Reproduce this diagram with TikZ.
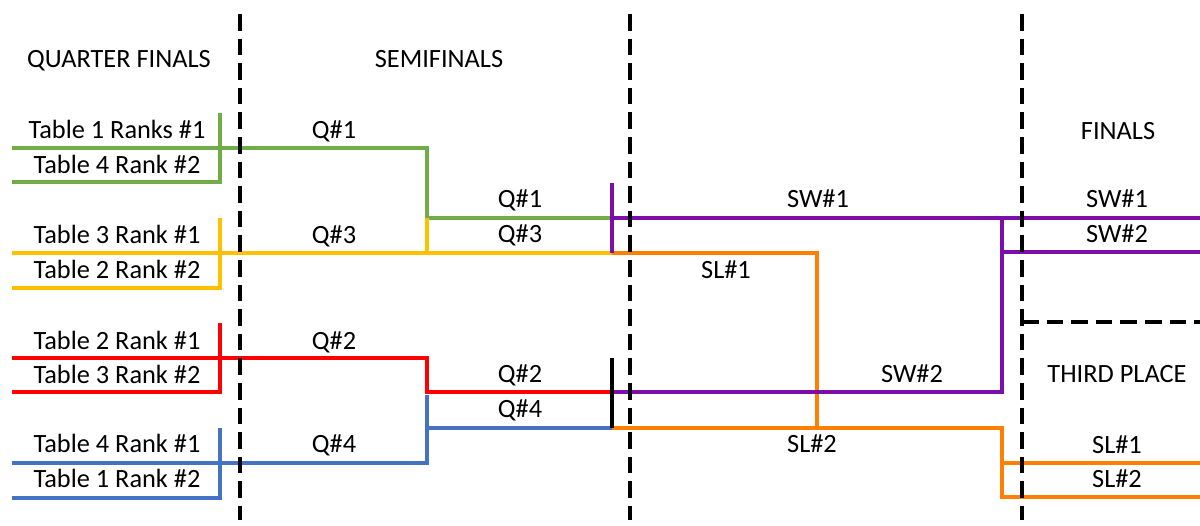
\documentclass[tikz,border=0pt]{standalone}
\usepackage{fontspec}
\setmainfont{Carlito}
\usepackage{xcolor}
\usepackage{tikz}
\definecolor{qgreen}{HTML}{70AD47}
\definecolor{qyellow}{HTML}{FFC000}
\definecolor{qred}{HTML}{FF0000}
\definecolor{qblue}{HTML}{4472C4}
\definecolor{sorange}{HTML}{FF8000}
\definecolor{spurple}{HTML}{7B0FA8}
\tikzset{BRline/.style={line width=2.2pt,line cap=butt},
	BRlabel/.style={anchor=base,inner sep=0pt,font=\fontsize{15}{18}\selectfont},
	BRsep/.style={line width=2.2pt,dash pattern=on 9.5pt off 4.5pt}}

\begin{document}
\begin{tikzpicture}[x=0.02cm,y=-0.02cm]
	\useasboundingbox (0,0) rectangle (1200,526);
	% junctions
	\coordinate (T1a) at (12,148);
	\coordinate (T1b) at (12,182);
	\coordinate (T3a) at (12,253);
	\coordinate (T3b) at (12,288);
	\coordinate (T2a) at (12,358);
	\coordinate (T2b) at (12,392);
	\coordinate (T4a) at (12,463);
	\coordinate (T4b) at (12,498);
	\coordinate (Gtop) at (220,113);
	\coordinate (Ytop) at (220,218);
	\coordinate (Rtop) at (220,323);
	\coordinate (Btop) at (220,428);
	\coordinate (Gq) at (427,148);
	\coordinate (Gs) at (427,218);
	\coordinate (Yq) at (427,253);
	\coordinate (Rq) at (427,358);
	\coordinate (Bs) at (427,428);
	\coordinate (Bq) at (427,395);
	\coordinate (S1) at (612,218);
	\coordinate (S3) at (612,253);
	\coordinate (S2) at (612,392);
	\coordinate (S4) at (612,428);
	\coordinate (Ptop) at (612,183);
	\coordinate (Ktop) at (612,358);
	\coordinate (Oturn) at (817,428);
	\coordinate (Pjoin) at (1002,218);
	\coordinate (Pmid) at (1002,252);
	\coordinate (Ojoin) at (1002,497);
	\coordinate (Omid) at (1002,463);
	\coordinate (F1) at (1200,218);
	\coordinate (F2) at (1200,252);
	\coordinate (P1) at (1200,463);
	\coordinate (P2) at (1200,497);
	\coordinate (D1a) at (240,14);
	\coordinate (D1b) at (240,520);
	\coordinate (D2a) at (630,14);
	\coordinate (D2b) at (630,520);
	\coordinate (D3a) at (1022,14);
	\coordinate (D3b) at (1022,520);
	\coordinate (D3m) at (1022,322);
	\coordinate (D3e) at (1200,322);
	%
	\draw[BRline,qgreen] (T1a) -- (Gq) |- (S1);
	\draw[BRline,qgreen] (T1b) -| (Gtop);
	\draw[BRline,qyellow] (T3a) -- (S3);
	\draw[BRline,qyellow] (T3b) -| (Ytop);
	\draw[BRline,qyellow] (Yq) -- (Gs);
	\draw[BRline,qred] (T2a) -- (Rq) |- (S2);
	\draw[BRline,qred] (T2b) -| (Rtop);
	\draw[BRline,qblue] (T4a) -| (Bq);
	\draw[BRline,qblue] (T4b) -| (Btop);
	\draw[BRline,qblue] (Bs) -- (S4);
	\draw[BRline,sorange] (S3) -| (Oturn);
	\draw[BRline,sorange] (S4) -| (Ojoin) -- (P2);
	\draw[BRline,sorange] (Omid) -- (P1);
	\draw[BRline,spurple] (S1) -- (F1);
	\draw[BRline,spurple] (S2) -| (Pjoin);
	\draw[BRline,spurple] (Pmid) -- (F2);
	\draw[BRline,spurple] (Ptop) -- (S3);
	\draw[BRline,black] (Ktop) -- (S4);
	%
	\draw[BRsep] (D1a) -- (D1b);
	\draw[BRsep] (D2a) -- (D2b);
	\draw[BRsep] (D3a) -- (D3b);
	\draw[BRsep] (D3m) -- (D3e);
	%
	\node[BRlabel] (QF) at (119,68) {QUARTER FINALS};
	\node[BRlabel] (SF) at (439,68) {SEMIFINALS};
	\node[BRlabel] (FI) at (1118,140) {FINALS};
	\node[BRlabel] (TP) at (1117,383) {THIRD PLACE};
	\node[BRlabel] (L1) at (117,139) {Table 1 Ranks \#1};
	\node[BRlabel] (L2) at (117,174) {Table 4 Rank \#2};
	\node[BRlabel] (L3) at (117,244) {Table 3 Rank \#1};
	\node[BRlabel] (L4) at (117,279) {Table 2 Rank \#2};
	\node[BRlabel] (L5) at (117,350) {Table 2 Rank \#1};
	\node[BRlabel] (L6) at (117,384) {Table 3 Rank \#2};
	\node[BRlabel] (L7) at (117,453) {Table 4 Rank \#1};
	\node[BRlabel] (L8) at (117,488) {Table 1 Rank \#2};
	\node[BRlabel] (Q1) at (334,139) {Q\#1};
	\node[BRlabel] (Q3) at (334,244) {Q\#3};
	\node[BRlabel] (Q2) at (334,350) {Q\#2};
	\node[BRlabel] (Q4) at (334,453) {Q\#4};
	\node[BRlabel] (Q1s) at (520,208) {Q\#1};
	\node[BRlabel] (Q3s) at (520,243) {Q\#3};
	\node[BRlabel] (Q2s) at (520,383) {Q\#2};
	\node[BRlabel] (Q4s) at (520,418) {Q\#4};
	\node[BRlabel] (SW1) at (818,208) {SW\#1};
	\node[BRlabel] (SL1) at (726,279) {SL\#1};
	\node[BRlabel] (SW2) at (912,383) {SW\#2};
	\node[BRlabel] (SL2) at (812,453) {SL\#2};
	\node[BRlabel] (SW1f) at (1117,208) {SW\#1};
	\node[BRlabel] (SW2f) at (1117,243) {SW\#2};
	\node[BRlabel] (SL1t) at (1117,454) {SL\#1};
	\node[BRlabel] (SL2t) at (1117,488) {SL\#2};
\end{tikzpicture}
\end{document}
